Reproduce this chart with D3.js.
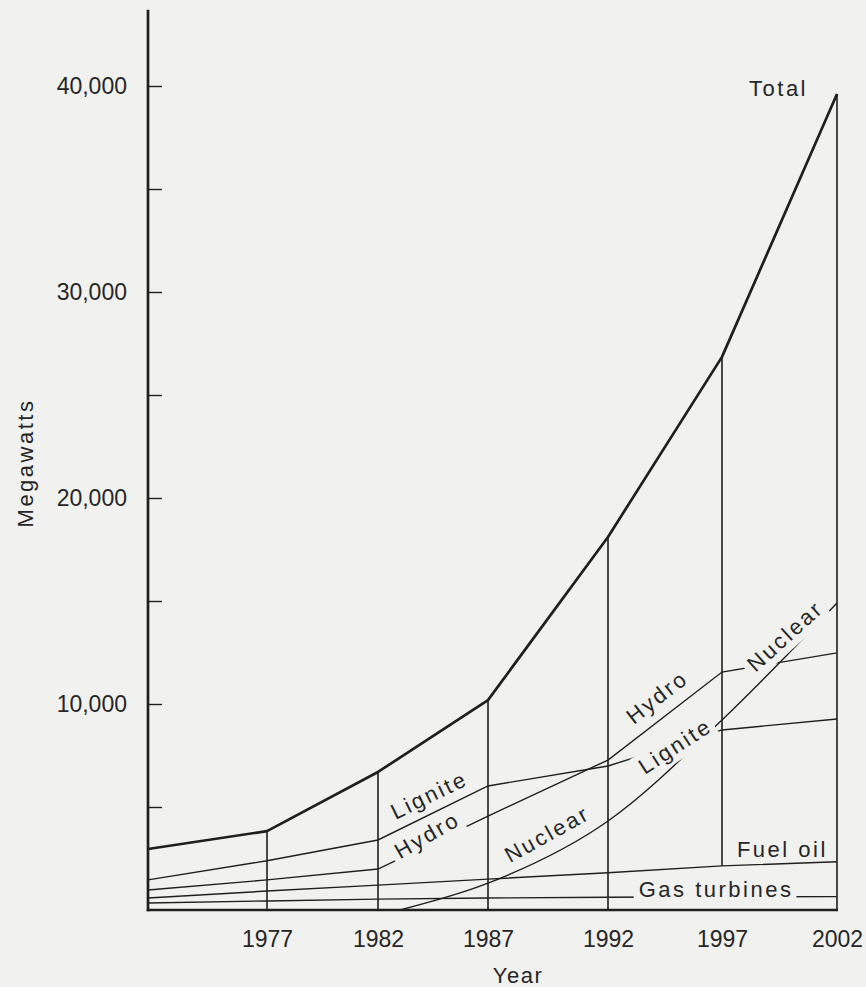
<!DOCTYPE html>
<html><head><meta charset="utf-8">
<script src="https://cdn.jsdelivr.net/npm/d3@7"></script>
<style>
html,body{margin:0;padding:0;background:#f1f1ef;}
svg{display:block;}
text{font-family:"Liberation Sans",Arial,Helvetica,sans-serif;fill:#262626;}
</style></head><body>
<svg id="chart" width="866" height="987"></svg>
<script>
// ---- data (megawatts) ----
const years = [1972, 1977, 1982, 1987, 1992, 1997, 2002];
const total = [2960, 3830, 6700, 10190, 18110, 26850, 39610];
const lignite = [1460, 2390, 3400, 6020, 6990, 8740, 9270];
const hydro = [970, 1460, 1990, 4560, 7280, 11550, 12480];
const fuelOil = [580, 920, 1210, 1500, 1810, 2140, 2340];
const gasTurbines = [340, 440, 530, 580, 620, 640, 650];
const nuclearYears = [1983, 1987, 1992, 1997, 2002];
const nuclear = [0, 1300, 4320, 9220, 14900];
const xTickYears = [1977, 1982, 1987, 1992, 1997, 2002];
const yTicks = [5000, 10000, 15000, 20000, 25000, 30000, 35000, 40000];
const yLabelTicks = [10000, 20000, 30000, 40000];
const yAxisMax = 43700;
const verticalsEndingOnFuelOil = [1997];

// series labels (position given in data units)
const labels = [
  {text: "Total", year: 2000.74, value: 39500, angle: 0, anchor: "end", baseline: true},
  {text: "Fuel oil", year: 2001.6, value: 2570, angle: 0, anchor: "end", baseline: true},
  {text: "Gas turbines", year: 1996.74, value: 630, angle: 0, anchor: "middle", baseline: true, mask: true},
  {text: "Lignite", year: 1984.32, value: 5580, angle: -26},
  {text: "Hydro", year: 1984.23, value: 3640, angle: -30, mask: true},
  {text: "Nuclear", year: 1989.46, value: 3690, angle: -29},
  {text: "Hydro", year: 1994.15, value: 10340, angle: -38},
  {text: "Lignite", year: 1994.94, value: 7960, angle: -33, mask: true},
  {text: "Nuclear", year: 1999.74, value: 13300, angle: -42, mask: true}
];

const ink = "#1f1f1f";
const bg = "#f1f1ef";
const svg = d3.select("#chart");
// the hand-drawn original spaces its year columns slightly unevenly
const x = d3.scaleLinear()
  .domain([1972, 1977, 1982, 1987, 1992, 1997, 2002])
  .range([148, 267, 378, 488, 608, 722, 837]);
const y = d3.scaleLinear().domain([0, 40000]).range([910, 86]);

const line = d3.line().x(d => x(d[0])).y(d => y(d[1]));
const zipY = (arr) => years.map((yr, i) => [yr, arr[i]]);

// vertical year lines
svg.append("g").selectAll("line").data(xTickYears).join("line")
  .attr("x1", d => x(d)).attr("x2", d => x(d))
  .attr("y1", d => y(total[years.indexOf(d)]))
  .attr("y2", d => verticalsEndingOnFuelOil.includes(d) ? y(fuelOil[years.indexOf(d)]) : y(0))
  .attr("stroke", ink).attr("stroke-width", 1.6);

// thin series lines
const thin = [gasTurbines, fuelOil, hydro, lignite];
svg.append("g").selectAll("path").data(thin).join("path")
  .attr("d", d => line(zipY(d)))
  .attr("fill", "none").attr("stroke", ink).attr("stroke-width", 1.4);

svg.append("path")
  .attr("d", d3.line().x(d => x(d[0])).y(d => y(d[1])).curve(d3.curveMonotoneX)(nuclearYears.map((yr, i) => [yr, nuclear[i]])))
  .attr("fill", "none").attr("stroke", ink).attr("stroke-width", 1.4);

// total
svg.append("path").attr("d", line(zipY(total)))
  .attr("fill", "none").attr("stroke", ink).attr("stroke-width", 2.7).attr("stroke-linejoin", "round");

// y axis
const yAxis = d3.axisLeft(y).tickValues(yTicks).tickSize(-14).tickPadding(21)
  .tickFormat(d => yLabelTicks.includes(d) ? d3.format(",")(d) : "");
const ga = svg.append("g").attr("transform", `translate(${x(1972)},0)`).call(yAxis);
ga.select(".domain").remove();
ga.selectAll(".tick line").attr("stroke", ink).attr("stroke-width", 1.4);
ga.selectAll(".tick text").attr("font-size", 23).attr("fill", "#262626")
  .attr("font-family", "Liberation Sans, Arial, sans-serif");

svg.append("line").attr("x1", x(1972)).attr("x2", x(1972))
  .attr("y1", y(0) + 1.3).attr("y2", y(yAxisMax))
  .attr("stroke", ink).attr("stroke-width", 2.7);
svg.append("line").attr("x1", x(1972) - 1.3).attr("x2", x(2002) + 1)
  .attr("y1", y(0)).attr("y2", y(0))
  .attr("stroke", ink).attr("stroke-width", 2.7);

// x axis labels
const xAxis = d3.axisBottom(x).tickValues(xTickYears).tickSize(0).tickPadding(21).tickFormat(d3.format("d"));
const gx = svg.append("g").attr("transform", `translate(0,${y(0)})`).call(xAxis);
gx.select(".domain").remove();
gx.selectAll(".tick text").attr("font-size", 23).attr("fill", "#262626")
  .attr("font-family", "Liberation Sans, Arial, sans-serif");

// axis titles
svg.append("text").text("Megawatts")
  .attr("transform", "translate(25,463) rotate(-90)")
  .attr("text-anchor", "middle").attr("dy", "0.35em")
  .attr("font-size", 22).attr("letter-spacing", 2.5);
svg.append("text").text("Year")
  .attr("x", 518).attr("y", 983).attr("text-anchor", "middle")
  .attr("font-size", 22).attr("letter-spacing", 1.5);

// series labels
labels.forEach(l => {
  const g = svg.append("g")
    .attr("transform", `translate(${x(l.year)},${y(l.value)}) rotate(${l.angle})`);
  const t = g.append("text").text(l.text)
    .attr("text-anchor", l.anchor || "middle")
    .attr("dy", l.baseline ? 0 : "0.35em")
    .attr("font-size", 22).attr("letter-spacing", 2.5);
  if (l.mask) {
    const b = t.node().getBBox();
    g.insert("rect", "text")
      .attr("x", b.x - 5).attr("y", b.y - 1)
      .attr("width", b.width + 8).attr("height", b.height + 3)
      .attr("fill", bg);
  }
});
</script>
</body></html>
